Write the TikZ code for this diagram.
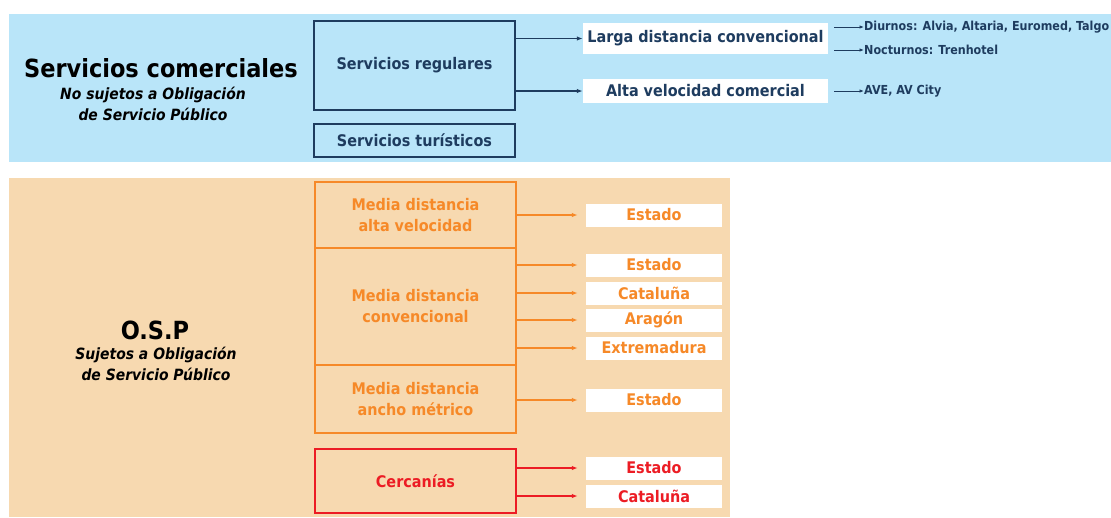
\documentclass[tikz,border=0pt]{standalone}
\usepackage{fontspec}
\setmainfont{DejaVu Sans Condensed}
\usepackage{tikz}
\usetikzlibrary{arrows.meta,calc,positioning}
\definecolor{rfnavy}{RGB}{30,60,95}
\definecolor{rfsky}{RGB}{185,229,249}
\definecolor{rfpeach}{RGB}{247,217,176}
\definecolor{rforange}{RGB}{246,137,40}
\definecolor{rfred}{RGB}{236,28,36}

\begin{document}
\begin{tikzpicture}[x=1pt,y=-1pt,
    lbl/.style={font=\bfseries\fontsize{16}{21}\selectfont,align=center,inner sep=0pt},
    small/.style={font=\bfseries\fontsize{12.4}{14}\selectfont,text=rfnavy,inner sep=0pt,anchor=west},
    sub/.style={font=\bfseries\itshape\fontsize{15.5}{21}\selectfont,align=center,inner sep=0pt},
    srvbox/.style={lbl,draw=rfnavy,text=rfnavy,line width=2pt,minimum width=201pt},
    ospbox/.style={lbl,draw=#1,text=#1,line width=2pt,minimum width=201pt},
    tag/.style={lbl,fill=white,text=#1,minimum width=136pt,minimum height=23pt},
    arr/.style={draw=#1,line width=1.5pt,-{Latex[length=6pt,width=4.5pt]}},
    thin/.style={draw=rfnavy,line width=.9pt,-{Latex[length=4.5pt,width=3.5pt]}}]
  \useasboundingbox (0,0) rectangle (1111,517);
  % bands
  \fill[rfsky] (9,14) rectangle (1111,162);
  \fill[rfpeach] (9,178) rectangle (730,517);
  % comerciales
  \node[font=\bfseries\fontsize{25}{28}\selectfont,inner sep=0pt] (com) at (161,68) {Servicios comerciales};
  \node[sub] (comsub) at (153,104) {No sujetos a Obligación\\ de Servicio Público};
  \node[srvbox,minimum height=89pt] (reg) at (414.5,65.5) {Servicios regulares};
  \node[srvbox,minimum height=33pt] (tur) at (414.5,140.5) {Servicios turísticos};
  \node[lbl,fill=white,text=rfnavy,minimum width=245pt,minimum height=31pt] (larga) at (705.5,38.5) {Larga distancia convencional};
  \node[lbl,fill=white,text=rfnavy,minimum width=245pt,minimum height=24pt] (alta) at (705.5,91) {Alta velocidad comercial};
  \draw[arr=rfnavy] (reg.east |- larga) -- (larga.west);
  \draw[arr=rfnavy] (reg.east |- alta) -- (alta.west);
  \node[small] (diur) at (864,27) {Diurnos: Alvia, Altaria, Euromed, Talgo};
  \node[small] (noct) at (864,50) {Nocturnos: Trenhotel};
  \node[small] (ave) at (864,91) {AVE, AV City};
  \draw[thin] ([xshift=6pt]larga.east |- diur) -- (diur.west);
  \draw[thin] ([xshift=6pt]larga.east |- noct) -- (noct.west);
  \draw[thin] ([xshift=6pt]alta.east |- ave) -- (ave.west);
  % O.S.P
  \node[font=\bfseries\fontsize{25}{28}\selectfont,inner sep=0pt] (osp) at (155,330) {O.S.P};
  \node[sub] (ospsub) at (156,364) {Sujetos a Obligación\\ de Servicio Público};
  \node[ospbox=rforange,minimum height=66pt] (mdav) at (415.5,215) {Media distancia\\alta velocidad};
  \node[ospbox=rforange,minimum height=117pt] (mdconv) at (415.5,306.5) {Media distancia\\convencional};
  \node[ospbox=rforange,minimum height=68pt] (mdam) at (415.5,399) {Media distancia\\ancho métrico};
  \node[ospbox=rfred,minimum height=64pt] (cerc) at (415.5,481) {Cercanías};
  \node[tag=rforange] (t1) at (654,215) {Estado};
  \node[tag=rforange] (t2) at (654,265) {Estado};
  \node[tag=rforange] (t3) at (654,293) {Cataluña};
  \node[tag=rforange] (t4) at (654,320) {Aragón};
  \node[tag=rforange] (t5) at (654,348) {Extremadura};
  \node[tag=rforange] (t6) at (654,400) {Estado};
  \node[tag=rfred] (t7) at (654,468) {Estado};
  \node[tag=rfred] (t8) at (654,496) {Cataluña};
  \foreach \b/\t in {mdav/t1,mdconv/t2,mdconv/t3,mdconv/t4,mdconv/t5,mdam/t6}
    \draw[arr=rforange,shorten >=8pt] (\b.east |- \t) -- (\t.west);
  \foreach \t in {t7,t8}
    \draw[arr=rfred,shorten >=8pt] (cerc.east |- \t) -- (\t.west);
\end{tikzpicture}
\end{document}
